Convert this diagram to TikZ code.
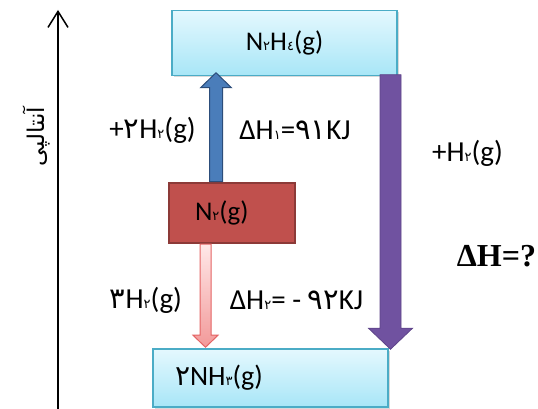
\documentclass[tikz,border=0pt]{standalone}
\usepackage{fontspec}
\setmainfont{Carlito}
\newfontfamily\arabicfont[Script=Arabic]{DejaVu Sans}
\newfontfamily\titlefont{Liberation Serif}
\TeXXeTstate=1
\usetikzlibrary{positioning, arrows.meta, calc, shadows}

\definecolor{cyantop}{HTML}{E4F8FE}
\definecolor{cyanbot}{HTML}{A8E6F7}
\definecolor{boxline}{HTML}{4BACC6}
\definecolor{nred}{HTML}{C0504D}
\definecolor{nredline}{HTML}{8C3A38}
\definecolor{bluefill}{HTML}{4A7DBA}
\definecolor{blueline}{HTML}{2C4D7A}
\definecolor{pinktop}{HTML}{FFE8E8}
\definecolor{pinkbot}{HTML}{F29999}
\definecolor{pinkline}{HTML}{E46464}
\definecolor{purplefill}{HTML}{7052A0}
\definecolor{purpleline}{HTML}{5E4489}

% digits: subscript and normal size
\newcommand\sd[1]{{\arabicfont\fontsize{13}{13}\selectfont #1}}
\newcommand\dg[1]{{\arabicfont #1}}
% vertical block arrow: style, from, tip, shaft half, head half, head offset
\newcommand\vblock[6]{%
  \path[#1] let \p1=(#2), \p2=(#3) in
    ({\x1-#4},\y1) -- ({\x1-#4},{\y2+(#6)}) -- ({\x1-#5},{\y2+(#6)}) -- (\x1,\y2)
    -- ({\x1+#5},{\y2+(#6)}) -- ({\x1+#4},{\y2+(#6)}) -- ({\x1+#4},\y1) -- cycle;}

\begin{document}
\begin{tikzpicture}[
  x=1pt, y=1pt,
  every node/.style={font=\fontsize{29}{32}\selectfont},
  level/.style={
    draw=boxline, line width=1.5pt,
    top color=cyantop, bottom color=cyanbot,
    drop shadow={shadow xshift=2pt, shadow yshift=-2pt, opacity=.3}
  },
  reactant/.style={draw=nredline, line width=2.5pt, fill=nred},
  uparrow/.style={draw=blueline, line width=1pt, fill=bluefill},
  downpink/.style={draw=pinkline, line width=1pt, top color=pinktop, bottom color=pinkbot},
  downpurple/.style={draw=purpleline, line width=.8pt, fill=purplefill},
]
\useasboundingbox (0,0) rectangle (538,409);

% enthalpy axis
\coordinate (ax0) at (58,0);
\coordinate (ax1) at (58,399);
\draw[line width=1.5pt, -{Straight Barb[length=16pt, width=20pt, line width=1.5pt]}] (ax0) -- (ax1);
\node[rotate=90, font=\arabicfont\fontsize{23}{26}\selectfont] (enth) at (37,272) {\beginR آنتالپی\endR};

% levels
\node[level, minimum width=225pt, minimum height=65pt, font=\fontsize{27}{30}\selectfont] (n2h4) at (284.5,366) {N\sd{٢}H\sd{٤}(g)};
\node[reactant, minimum height=60pt, text width=74pt, inner xsep=26pt, align=left, font=\fontsize{27}{30}\selectfont] (n2) at (232,196) {N\sd{٢}(g)};
\node[level, minimum height=58pt, text width=191pt, inner xsep=22pt, align=left, font=\fontsize{28}{30}\selectfont] (nh3) at (270.5,31) {\dg{٢}NH\sd{٣}(g)};

% block arrows
\coordinate (up0) at ($(n2.north)+(-16,0)$);
\coordinate (up1) at ($(n2h4.south)+(-68.5,3.5)$);
\vblock{uparrow}{up0}{up1}{6.5}{15.5}{-15}
\coordinate (dn0) at ($(n2.south)+(-26.5,0)$);
\coordinate (dn1) at ($(nh3.north)+(-65,1)$);
\vblock{downpink}{dn0}{dn1}{5.5}{12.5}{12}
\coordinate (tot0) at ($(n2h4.south)+(106,1.5)$);
\coordinate (tot1) at ($(nh3.north)+(120,-1)$);
\vblock{downpurple}{tot0}{tot1}{10.5}{22}{21}

% labels
\node (addtwo) at (152.5,279) {+\dg{٢}H\sd{٢}(g)};
\node (dhone) at (295,279) {ΔH\sd{١}=\dg{٩١}KJ};
\node (addone) at (467.5,256) {+H\sd{٢}(g)};
\node[font=\titlefont\bfseries\fontsize{32}{34}\selectfont] (dhtot) at (496.5,152.5) {ΔH=?};
\node (addthree) at (146,109) {\dg{٣}H\sd{٢}(g)};
\node (dhtwo) at (296.5,109) {ΔH\sd{٢}= - \dg{٩٢}KJ};
\end{tikzpicture}
\end{document}
